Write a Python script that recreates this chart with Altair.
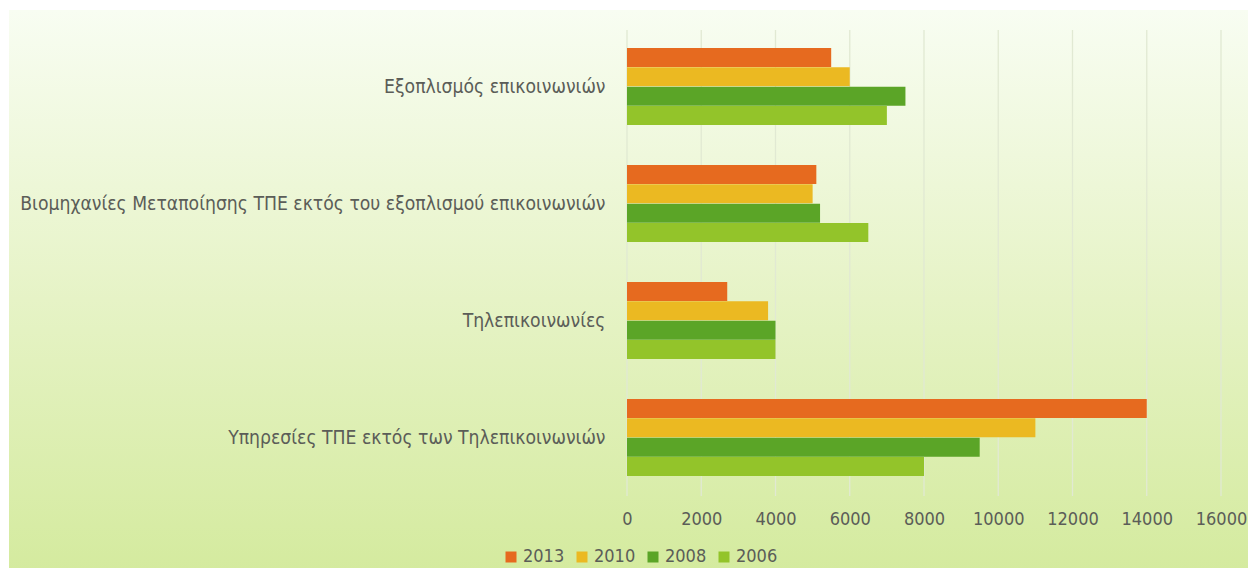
import altair as alt
import pandas as pd

categories = [
    "Εξοπλισμός επικοινωνιών",
    "Βιομηχανίες Μεταποίησης ΤΠΕ εκτός του εξοπλισμού επικοινωνιών",
    "Τηλεπικοινωνίες",
    "Υπηρεσίες ΤΠΕ εκτός των Τηλεπικοινωνιών",
]
years = ["2013", "2010", "2008", "2006"]
values_2013 = [5500, 5100, 2700, 14000]
values_2010 = [6000, 5000, 3800, 11000]
values_2008 = [7500, 5200, 4000, 9500]
values_2006 = [7000, 6500, 4000, 8000]
colors = ["#E66A1F", "#EBB922", "#5BA527", "#93C42A"]
x_ticks = [0, 2000, 4000, 6000, 8000, 10000, 12000, 14000, 16000]

series = {"2013": values_2013, "2010": values_2010, "2008": values_2008, "2006": values_2006}
rows = []
for y in years:
    for c, v in zip(categories, series[y]):
        rows.append({"category": c, "year": y, "value": v})
df = pd.DataFrame(rows)
grid_df = pd.DataFrame({"tick": x_ticks})

FONT = "DejaVu Sans Condensed"
TEXT = "#5B5D58"

W, H = 594, 468
xscale = alt.Scale(domain=[0, 16000], nice=False)

bg = alt.Chart(pd.DataFrame({"a": [0]})).mark_rect(
    fill=alt.Gradient(
        gradient="linear",
        stops=[
            alt.GradientStop(color="#F8FDF2", offset=0),
            alt.GradientStop(color="#E6F3C6", offset=0.5),
            alt.GradientStop(color="#D3EA9C", offset=1),
        ],
        x1=0, x2=0, y1=0, y2=1,
    )
).encode(
    x=alt.value(-618), x2=alt.value(650),
    y=alt.value(-18), y2=alt.value(560),
)

grid = alt.Chart(grid_df).mark_rule(color="#E1E9D3", strokeWidth=1.3).encode(
    x=alt.X("tick:Q", scale=xscale),
    y=alt.value(2), y2=alt.value(H),
)

bars = alt.Chart(df).mark_bar(size=19).encode(
    y=alt.Y("category:N", sort=categories, title=None,
            scale=alt.Scale(paddingInner=0.34, paddingOuter=0.17),
            axis=alt.Axis(labelFont=FONT, labelFontSize=19.2, labelColor=TEXT,
                          labelPadding=22, labelLimit=700, ticks=False, domain=False,
                          grid=False, zindex=1)),
    yOffset=alt.YOffset("year:N", sort=years, scale=alt.Scale(paddingInner=0, paddingOuter=0)),
    x=alt.X("value:Q", title=None, scale=xscale,
            axis=alt.Axis(values=x_ticks, format="d", labelFont=FONT, labelFontSize=18,
                          labelColor=TEXT, labelPadding=14, ticks=False, domain=False,
                          labelOverlap=False, labelFlush=False,
                          grid=False, zindex=1)),
    color=alt.Color("year:N", sort=years,
                    scale=alt.Scale(domain=years, range=colors),
                    legend=alt.Legend(title=None, orient="none", direction="horizontal",
                                      legendX=-125, legendY=520,
                                      symbolType="square", symbolSize=121,
                                      symbolStrokeWidth=0,
                                      labelFont=FONT, labelFontSize=18, labelColor=TEXT,
                                      labelOffset=3, columnPadding=8)),
)

chart = alt.layer(bg, grid, bars).properties(
    width=W, height=H,
    autosize=alt.AutoSizeParams(type="none"),
    padding={"left": 619, "top": 20, "right": 27, "bottom": 72},
).configure_view(stroke=None).configure(background="white")

chart.save("out.html", embed_options={"renderer": "svg", "actions": False})
